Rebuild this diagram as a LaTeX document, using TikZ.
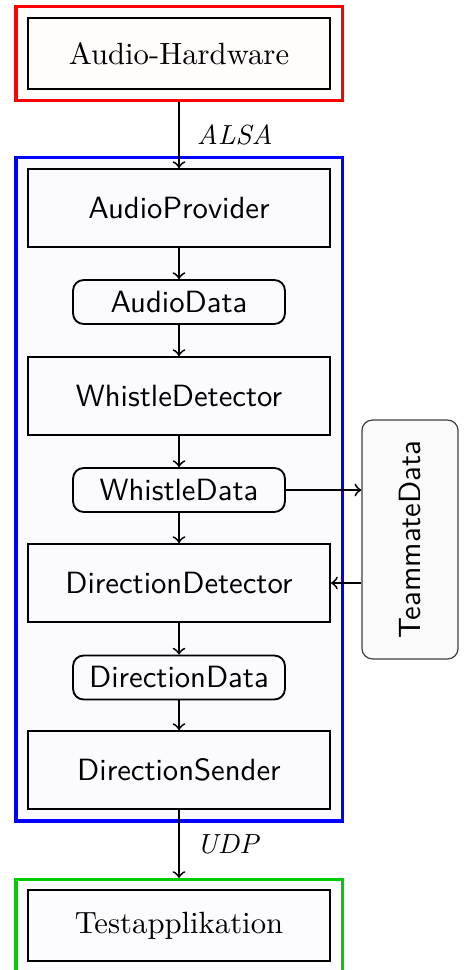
\documentclass[tikz,border=0pt]{standalone}
\usetikzlibrary{fit,backgrounds}
\begin{document}
\begin{tikzpicture}[x=0.3257pt,y=-0.3257pt,
  module/.style={draw,semithick,minimum width=98.4pt,minimum height=25.4pt,inner sep=0pt},
  endpoint/.style={draw,semithick,minimum width=98.4pt,minimum height=23.1pt,inner sep=0pt},
  datum/.style={draw,semithick,rounded corners=3.4pt,minimum width=69pt,minimum height=14.3pt,inner sep=0pt,font=\sffamily},
  shared/.style={draw=black!75,line width=0.4pt,fill=black!2,rounded corners=3.4pt,rotate=90,
    minimum width=77.8pt,minimum height=31.3pt,inner sep=0pt,font=\sffamily},
  frame/.style={line width=1pt,inner sep=3.6pt},
  flow/.style={->,semithick},
  proto/.style={right,inner sep=5.5pt,font=\small\itshape}]
\useasboundingbox (0,0) rectangle (465,970);
\clip (0,0) rectangle (465,970);

% hardware, processing chain and receiver
\node[endpoint] (hw) at (179,53.5) {Audio-Hardware};
\node[module,font=\sffamily] (ap) at (179,208) {AudioProvider};
\node[datum] (ad) at (179,302) {AudioData};
\node[module,font=\sffamily] (wdet) at (179,396) {WhistleDetector};
\node[datum] (wd) at (179,490) {WhistleData};
\node[module,font=\sffamily] (ddet) at (179,583) {DirectionDetector};
\node[datum] (dd) at (179,677.5) {DirectionData};
\node[module,font=\sffamily] (ds) at (179,770) {DirectionSender};
\node[endpoint] (test) at (179,925.5) {Testapplikation};
\node[shared] (tm) at (410,539.5) {TeammateData};

% enclosing frames
\begin{scope}[on background layer]
  \node[frame,draw=red,fill=red!1!white,fit=(hw)] (hwframe) {};
  \node[frame,draw=blue,fill=blue!2,fit=(ap)(ds)] (robot) {};
  \node[frame,draw=green!80!black,fill=blue!1,fit=(test),minimum height=34pt,anchor=north] (pc) at (179,878) {};
\end{scope}

% data flow
\draw[flow] (hwframe) -- node[proto] {ALSA} (ap);
\draw[flow] (ap) -- (ad);
\draw[flow] (ad) -- (wdet);
\draw[flow] (wdet) -- (wd);
\draw[flow] (wd) -- (ddet);
\draw[flow] (ddet) -- (dd);
\draw[flow] (dd) -- (ds);
\draw[flow] (ds) -- node[proto] {UDP} (test.north |- pc.north);
\draw[flow] (wd.east) -- (wd.east -| tm.north);
\draw[flow] (tm.north |- ddet.east) -- (ddet.east);
\end{tikzpicture}
\end{document}
